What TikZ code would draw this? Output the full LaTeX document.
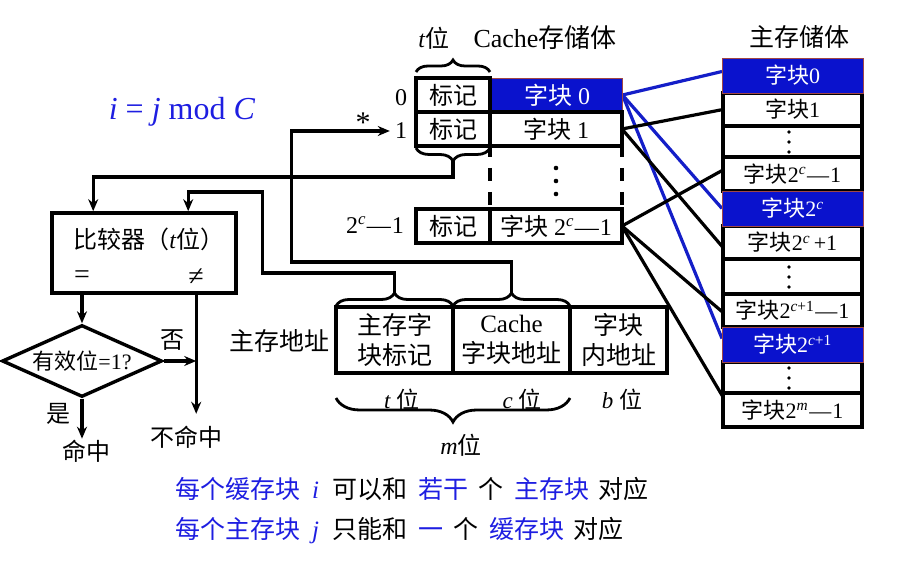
\documentclass[tikz,border=0pt]{standalone}
\usepackage{fontspec}
\setmainfont{Liberation Serif}
\newfontfamily\zh{Noto Sans CJK SC}
\usetikzlibrary{arrows.meta,decorations.pathreplacing,shapes.geometric}
\definecolor{blkfill}{RGB}{10,18,205}
\definecolor{blkedge}{RGB}{160,70,70}
\definecolor{tblue}{RGB}{30,30,225}
\definecolor{lblue}{RGB}{20,30,200}
\newcommand\fsz[1]{\fontsize{#1}{#1}\selectfont}
\newcommand\mn{\kern1pt—\kern1pt}
\newcommand\supc{\textsuperscript{\itshape c}}
\newcommand\supcp{\textsuperscript{\itshape c\upshape +1}}
\pgfdeclarelayer{bg}
\pgfsetlayers{bg,main}
\begin{document}
\begin{tikzpicture}[x=1pt,y=-1pt,
  cc/.style={draw,line width=3.4pt,inner sep=0pt,outer sep=0pt,font=\zh\fsz{24}},
  mc/.style={draw,line width=3.4pt,inner sep=0pt,outer sep=0pt,minimum width=139pt,font=\zh\fsz{22}},
  bluecell/.style={fill=blkfill,draw=blkedge,line width=0.8pt,text=white,inner sep=0pt,outer sep=0pt},
  wire/.style={line width=3.2pt},
  arr/.style={wire,-{Stealth[length=12pt,width=10pt]}},
  brc/.style={decorate,decoration={brace,amplitude=#1},line width=2.8pt},
  lbl/.style={inner sep=0pt,font=\zh\fsz{24}},
  num/.style={inner sep=0pt,font=\fsz{24}},
  dotm/.style={fill=black}
]
\useasboundingbox (0,0) rectangle (903,561);

% ---------- formula ----------
\node[inner sep=0pt,font=\fsz{32},text=tblue] (fm) at (182,112) {\textit{i} = \textit{j} mod \textit{C}};

% ---------- cache ----------
\node[lbl,font=\fsz{24}] (tt) at (434,38) {\textit{t}{\zh 位}};
\node[lbl,font=\fsz{26}] (ct) at (545,38) {Cache{\zh 存储体}};

\node[bluecell,minimum width=131pt,minimum height=34pt,font=\fsz{24}] (blk0) at (557,95) {{\zh 字块} 0};
\node[cc,minimum width=74pt,minimum height=34pt] (tag0) at (453,95) {标记};
\node[cc,minimum width=74pt,minimum height=34pt] (tag1) at (453,129) {标记};
\node[cc,minimum width=132pt,minimum height=34pt] (blk1) at (556,129) {字块\rmfamily{} 1};
\node[cc,minimum width=74pt,minimum height=34pt] (tagL) at (453,226) {标记};
\node[cc,minimum width=132pt,minimum height=34pt] (blkL) at (556,226) {字块\rmfamily{} 2\supc\mn 1};
\draw[line width=3.4pt,dash pattern=on 13pt off 11pt,dash phase=2pt] (blk1.south west) -- (blkL.north west);
\draw[line width=3.4pt,dash pattern=on 13pt off 11pt,dash phase=2pt] (blk1.south east) -- (blkL.north east);
\fill[dotm] (556,168) circle[radius=2.3pt] (556,181) circle[radius=2.3pt] (556,194) circle[radius=2.3pt];

\node[num] (lab0) at (401,98) {0};
\node[num,inner xsep=5pt] (lab1) at (401,131) {1};
\node[num] (labL) at (375,225) {2\supc\mn 1};
\node[num,font=\fsz{30}] (star) at (363,123) {*};

\draw[brc=12pt] (416,72) -- (490,72);
\draw[brc=13pt] (490,148) -- (416,148);
\coordinate (tb) at (453,161);

% ---------- main memory ----------
\node[lbl,font=\zh\fsz{25}] (mt) at (799,37) {主存储体};
\node[mc,minimum height=33pt] (m1) at (792.5,109.5) {字块\rmfamily 1};
\node[mc,minimum height=31pt] (m2) at (792.5,141.5) {};
\node[mc,minimum height=34pt] (m3) at (792.5,174) {字块\rmfamily 2\supc\mn 1};
\node[mc,minimum height=33pt] (m5) at (792.5,242.5) {字块\rmfamily 2\supc\,+1};
\node[mc,minimum height=35pt] (m6) at (792.5,276.5) {};
\node[mc,minimum height=33pt] (m7) at (792.5,310.5) {字块\rmfamily 2\supcp\mn 1};
\node[mc,minimum height=31pt] (m9) at (792.5,377.5) {};
\node[mc,minimum height=34pt] (m10) at (792.5,410) {字块\rmfamily 2\textsuperscript{\itshape m}\mn 1};
\node[bluecell,minimum width=141pt,minimum height=35pt,font=\fsz{22}] (m0) at (792.5,75.5) {{\zh 字块}0};
\node[bluecell,minimum width=141pt,minimum height=35pt,font=\fsz{22}] (m4) at (792.5,208.5) {{\zh 字块}2\supc};
\node[bluecell,minimum width=141pt,minimum height=35pt,font=\fsz{22}] (m8) at (792.5,344.5) {{\zh 字块}2\supcp};
\fill[dotm] (789,132) circle[radius=1.9pt] (789,142) circle[radius=1.9pt] (789,152) circle[radius=1.9pt];
\fill[dotm] (789,267) circle[radius=1.9pt] (789,277) circle[radius=1.9pt] (789,287) circle[radius=1.9pt];
\fill[dotm] (789,368) circle[radius=1.9pt] (789,378) circle[radius=1.9pt] (789,388) circle[radius=1.9pt];

\begin{pgfonlayer}{bg}
\draw[line width=3.2pt,lblue] (blk0.east) -- ([yshift=4pt]m0.west);
\draw[line width=3.2pt,lblue] (blk0.east) -- (m4.west);
\draw[line width=3.2pt,lblue] (blk0.east) -- ([yshift=6pt]m8.west);
\draw[wire] (blk1.east) -- (m1.west);
\draw[wire] (blk1.east) -- ([yshift=-5pt]m5.west);
\draw[wire] (blkL.east) -- ([yshift=4pt]m3.west);
\draw[wire] (blkL.east) -- ([yshift=-2pt]m7.west);
\draw[wire] (blkL.east) -- ([yshift=13pt]m10.west);
\end{pgfonlayer}

% ---------- comparator ----------
\node[draw,line width=3.6pt,minimum width=184pt,minimum height=80pt,inner sep=0pt] (cmp) at (144,253) {};
\node[lbl,font=\zh\fsz{24}] (cmpt) at (149,239) {比较器（\rmfamily\textit{t}\zh 位）};
\node[num,font=\fsz{28}] (eq) at (82,277) {=};
\node[num,font=\fsz{28}] (ne) at (196,277) {≠};
\coordinate (inA) at ([xshift=43pt]cmp.north west);
\coordinate (inB) at ([xshift=138pt]cmp.north west);
\coordinate (neq) at ([xshift=146pt]cmp.south west);

\node[diamond,draw,line width=3.4pt,aspect=2.2,inner sep=0pt,minimum width=160pt,minimum height=72pt,font=\fsz{22}] (dia) at (82,361) {{\zh 有效位}=1?};
\node[lbl] (no) at (172,340) {否};
\node[lbl] (yes) at (58,414) {是};
\node[lbl] (hit) at (86,451) {命中};
\node[lbl] (miss) at (186,437) {不命中};

\draw[arr] (dia.north |- cmp.south) -- (dia.north);
\draw[arr] (neq) -- ++(0,119);
\draw[arr] (dia.east) -- (dia.east -| neq);
\draw[arr] (dia.south) -- ++(0,40);

% ---------- address ----------
\node[lbl,font=\zh\fsz{25}] (addr) at (279,341) {主存地址};
\node[cc,font=\zh\fontsize{25}{30}\selectfont,minimum width=117pt,minimum height=66pt,align=center] (f1) at (394.5,340) {主存字\\块标记};
\node[cc,font=\zh\fontsize{25}{30}\selectfont,minimum width=117pt,minimum height=66pt,align=center] (f2) at (511.5,340) {{\rmfamily Cache}\\字块地址};
\node[cc,font=\zh\fontsize{25}{30}\selectfont,minimum width=97pt,minimum height=66pt,align=center] (f3) at (618.5,340) {字块\\内地址};
\draw[brc=13pt] (336,306) -- (453,306);
\draw[brc=13pt] (453,306) -- (570,306);
\coordinate (ab1) at (394.5,293);
\coordinate (ab2) at (511.5,293);
\draw[brc=24pt] (570,398) -- (336,398);
\node[num,font=\fsz{23}] (tbits) at (402,400) {\textit{t} {\zh 位}};
\node[num,font=\fsz{23}] (cbits) at (522,400) {\textit{c} {\zh 位}};
\node[num,font=\fsz{23}] (bbits) at (622,400) {\textit{b} {\zh 位}};
\node[num,font=\fsz{24}] (mbits) at (461,445) {\textit{m}{\zh 位}};

% ---------- wires ----------
\draw[arr] (tb) -- ++(0,16) -| (inA);
\draw[arr] (ab1) -- ++(0,-20) -- ++(-132,0) -- ++(0,-81) -| (inB);
\draw[arr] (ab2) -- ++(0,-31) -- ++(-220,0) |- (lab1.west);

% ---------- bottom text ----------
\node[anchor=west,inner sep=0pt,font=\fsz{25}] (line1) at (175,489) {\textcolor{tblue}{\zh 每个缓存块}\hspace{12pt}\textcolor{tblue}{\textit{i}}\hspace{13pt}{\zh 可以和}\hspace{11pt}\textcolor{tblue}{\zh 若干}\hspace{10pt}{\zh 个}\hspace{11pt}\textcolor{tblue}{\zh 主存块}\hspace{9pt}{\zh 对应}};
\node[anchor=west,inner sep=0pt,font=\fsz{25}] (line2) at (175,531) {\textcolor{tblue}{\zh 每个主存块}\hspace{12pt}\textcolor{tblue}{\textit{j}}\hspace{13pt}{\zh 只能和}\hspace{11pt}\textcolor{tblue}{\zh 一}\hspace{10pt}{\zh 个}\hspace{11pt}\textcolor{tblue}{\zh 缓存块}\hspace{9pt}{\zh 对应}};
\end{tikzpicture}
\end{document}
